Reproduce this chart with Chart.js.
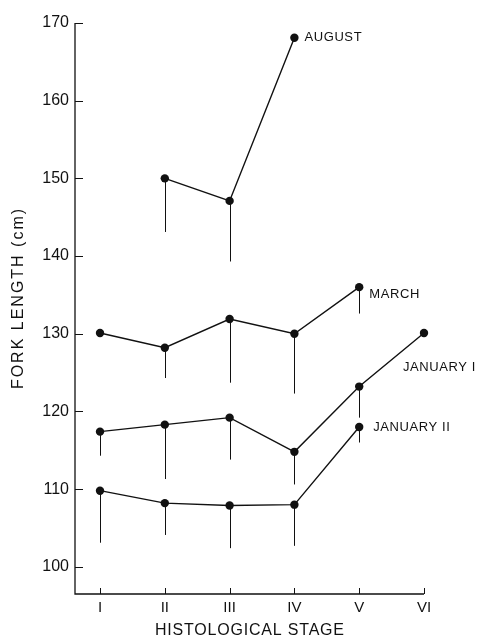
<!DOCTYPE html>
<html>
<head>
<meta charset="utf-8">
<script src="https://cdn.jsdelivr.net/npm/chart.js@4"></script>
<style>
  html, body { margin: 0; padding: 0; background: #fff; }
  #wrap { width: 478px; height: 642px; }
</style>
</head>
<body>
<div id="wrap"><canvas id="c"></canvas></div>
<script>
// Histological stages along the x axis
const stages = ['I', 'II', 'III', 'IV', 'V', 'VI'];
const yTickValues = [100, 110, 120, 130, 140, 150, 160, 170];

// Mean fork length (cm) per stage, null where no sample
const august    = [null, 150.0, 147.1, 168.1, null, null];
const march     = [130.1, 128.2, 131.9, 130.0, 136.0, null];
const januaryI  = [117.4, 118.3, 119.2, 114.8, 123.2, 130.1];
const januaryII = [109.8, 108.2, 107.9, 108.0, 118.0, null];

// Lower end of each range bar (cm), null where no bar is drawn
const augustLow    = [null, 143.1, 139.3, null, null, null];
const marchLow     = [null, 124.3, 123.7, 122.3, 132.6, null];
const januaryILow  = [114.3, 111.3, 113.8, 110.6, 119.2, null];
const januaryIILow = [103.1, 104.1, 102.4, 102.7, 116.0, null];

const seriesNames = ['AUGUST', 'MARCH', 'JANUARY I', 'JANUARY II'];
const xTitle = 'HISTOLOGICAL STAGE';
const yTitle = 'FORK LENGTH (cm)';

const FONT = '"Liberation Sans", Arial, sans-serif';
const INK = '#111';

function toPoints(values) {
  return values.map((v, i) => v == null ? null : { x: i + 1, y: v }).filter(p => p);
}

const seriesValues = [august, march, januaryI, januaryII];
const seriesLows = [augustLow, marchLow, januaryILow, januaryIILow];

// label placement relative to the last point of each series (px)
const labelOffsets = [[10, 0], [10, 7], [-21, 34], [14, 0]];

const rangeBars = {
  id: 'rangeBars',
  beforeDatasetsDraw(chart) {
    const { ctx, scales: { x, y } } = chart;
    ctx.save();
    ctx.strokeStyle = INK;
    ctx.lineWidth = 1;
    seriesValues.forEach((vals, s) => {
      const lows = seriesLows[s];
      vals.forEach((v, i) => {
        if (v == null || lows[i] == null) return;
        const px = Math.round(x.getPixelForValue(i + 1)) + 0.5;
        ctx.beginPath();
        ctx.moveTo(px, y.getPixelForValue(v));
        ctx.lineTo(px, y.getPixelForValue(lows[i]));
        ctx.stroke();
      });
    });
    ctx.restore();
  }
};

const seriesLabels = {
  id: 'seriesLabels',
  afterDatasetsDraw(chart) {
    const { ctx, scales: { x, y } } = chart;
    ctx.save();
    ctx.fillStyle = INK;
    ctx.font = '13px ' + FONT;
    ctx.letterSpacing = '0.6px';
    ctx.textAlign = 'left';
    ctx.textBaseline = 'middle';
    seriesValues.forEach((vals, s) => {
      let last = -1;
      vals.forEach((v, i) => { if (v != null) last = i; });
      const px = x.getPixelForValue(last + 1) + labelOffsets[s][0];
      const py = y.getPixelForValue(vals[last]) + labelOffsets[s][1];
      ctx.fillText(seriesNames[s], px, py);
    });
    ctx.restore();
  }
};

// axis lines, short tick marks pointing into the plot, and the axis titles
const axisMarks = {
  id: 'axisMarks',
  afterDraw(chart) {
    const { ctx, chartArea: a, scales: { x, y } } = chart;
    ctx.save();
    ctx.strokeStyle = INK;
    ctx.lineWidth = 1.3;
    ctx.beginPath();
    ctx.moveTo(a.left, a.top);
    ctx.lineTo(a.left, a.bottom);
    ctx.lineTo(a.right, a.bottom);
    ctx.stroke();
    ctx.lineWidth = 1;
    y.ticks.forEach(t => {
      const py = Math.round(y.getPixelForValue(t.value)) + 0.5;
      ctx.beginPath();
      ctx.moveTo(a.left, py);
      ctx.lineTo(a.left + 8, py);
      ctx.stroke();
    });
    x.ticks.forEach(t => {
      const px = Math.round(x.getPixelForValue(t.value)) + 0.5;
      ctx.beginPath();
      ctx.moveTo(px, a.bottom);
      ctx.lineTo(px, a.bottom - 6);
      ctx.stroke();
    });

    ctx.fillStyle = INK;
    ctx.textAlign = 'center';
    ctx.textBaseline = 'middle';
    ctx.font = '16px ' + FONT;
    ctx.letterSpacing = '0.8px';
    ctx.fillText(xTitle, (a.left + a.right) / 2 + 0.4, 631);

    ctx.translate(19, 299);
    ctx.rotate(-Math.PI / 2);
    ctx.letterSpacing = '2px';
    ctx.fillText(yTitle, 1, 0);
    ctx.restore();
  }
};

const lineStyle = {
  borderColor: INK,
  backgroundColor: INK,
  borderWidth: 1.4,
  pointRadius: 4.2,
  pointHoverRadius: 4.2,
  pointBackgroundColor: INK,
  pointBorderWidth: 0,
  fill: false,
  tension: 0,
  clip: false
};

new Chart(document.getElementById('c'), {
  type: 'line',
  data: {
    datasets: seriesValues.map((vals, s) => Object.assign({
      label: seriesNames[s],
      data: toPoints(vals)
    }, lineStyle))
  },
  options: {
    responsive: true,
    maintainAspectRatio: false,
    animation: false,
    events: [],
    layout: { padding: { top: 23, right: 54, left: 0, bottom: 0 } },
    plugins: { legend: { display: false }, tooltip: { enabled: false } },
    scales: {
      x: {
        type: 'linear',
        min: 0.614,
        max: 6,
        afterBuildTicks: s => { s.ticks = stages.map((_, i) => ({ value: i + 1 })); },
        afterFit: s => { s.height = 48; },
        grid: { display: false, drawTicks: false },
        border: { display: false },
        ticks: {
          color: INK,
          font: { family: FONT, size: 15 },
          padding: 5,
          maxRotation: 0,
          autoSkip: false,
          callback: v => stages[Math.round(v) - 1] || ''
        }
      },
      y: {
        type: 'linear',
        min: 96.5,
        max: 170,
        afterBuildTicks: s => { s.ticks = yTickValues.map(v => ({ value: v })); },
        afterFit: s => { s.width = 75; },
        grid: { display: false, drawTicks: false },
        border: { display: false },
        ticks: {
          color: INK,
          font: { family: FONT, size: 16 },
          padding: 6
        }
      }
    }
  },
  plugins: [rangeBars, seriesLabels, axisMarks]
});
</script>
</body>
</html>
